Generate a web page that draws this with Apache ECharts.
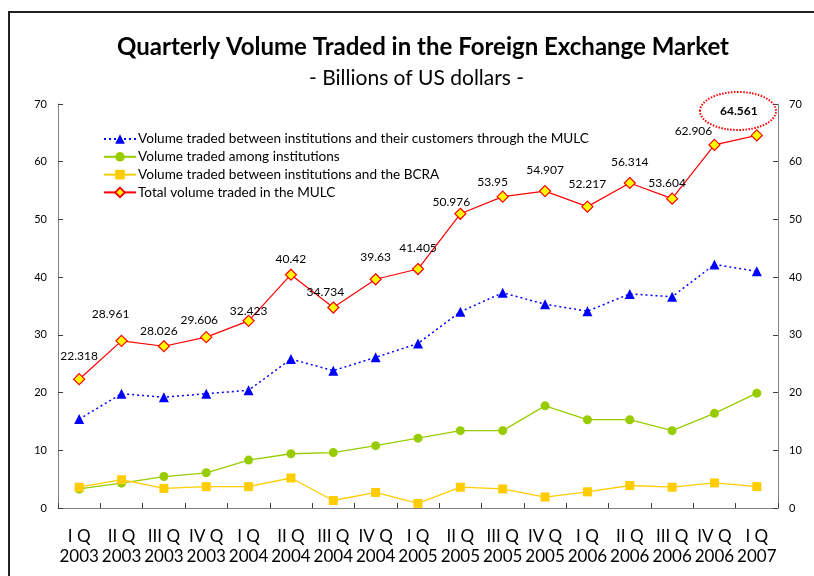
<!DOCTYPE html>
<html>
<head>
<meta charset="utf-8">
<script src="https://cdn.jsdelivr.net/npm/echarts@6/dist/echarts.min.js"></script>
<style>
  html, body { margin: 0; padding: 0; background: #fff; }
  #fx-chart { width: 814px; height: 576px; }
</style>
</head>
<body>
<div id="fx-chart"></div>
<script>
var quarters = ['I Q\n2003', 'II Q\n2003', 'III Q\n2003', 'IV Q\n2003',
  'I Q\n2004', 'II Q\n2004', 'III Q\n2004', 'IV Q\n2004',
  'I Q\n2005', 'II Q\n2005', 'III Q\n2005', 'IV Q\n2005',
  'I Q\n2006', 'II Q\n2006', 'III Q\n2006', 'IV Q\n2006', 'I Q\n2007'];
var customers = [15.4, 19.8, 19.2, 19.8, 20.4, 25.8, 23.8, 26.1, 28.5, 34.0, 37.3, 35.3, 34.1, 37.1, 36.6, 42.2, 41.0];
var amongInst = [3.3, 4.3, 5.45, 6.1, 8.3, 9.4, 9.6, 10.8, 12.1, 13.4, 13.4, 17.7, 15.3, 15.3, 13.4, 16.4, 19.9];
var withBcra = [3.6, 4.9, 3.4, 3.7, 3.7, 5.2, 1.3, 2.7, 0.8, 3.6, 3.3, 1.9, 2.8, 3.9, 3.6, 4.35, 3.7];
var total = [22.318, 28.961, 28.026, 29.606, 32.423, 40.42, 34.734, 39.63, 41.405, 50.976, 53.95, 54.907, 52.217, 56.314, 53.604, 62.906, 64.561];
var seriesNames = [
  'Volume traded between institutions and their customers through the MULC',
  'Volume traded among institutions',
  'Volume traded between institutions and the BCRA',
  'Total volume traded in the MULC'
];

// where each total label sits relative to its point
var labelOffsets = [[0, -23], [-11, -27], [-5, -15], [-7, -17], [0, -10], [0, -16], [-8, -15], [0, -22],
  [0, -21], [-9, -12], [-10, -15], [0, -21], [0, -23], [0, -21], [-5, -16], [-21, -14], [-18, -24]];

var font = 'Lato, "Open Sans", sans-serif';
var chartDom = document.getElementById('fx-chart');
var myChart = echarts.init(chartDom);
var option;

var totalData = total.map(function (v, i) {
  var item = { value: v, label: { offset: labelOffsets[i] } };
  if (i === total.length - 1) {
    item.label.fontWeight = 'bold';
  }
  return item;
});

var yAxisBase = {
  type: 'value',
  min: 0,
  max: 70,
  interval: 10,
  axisLine: { show: true, lineStyle: { color: '#808080', width: 1 } },
  axisTick: { show: true, inside: true, length: 5, lineStyle: { color: '#404040' } },
  axisLabel: { color: '#000', fontSize: 11, fontFamily: font, margin: 11 },
  splitLine: { show: false }
};

option = {
  backgroundColor: '#fff',
  animation: false,
  textStyle: { fontFamily: font },
  title: [
    {
      text: 'Quarterly Volume Traded in the Foreign Exchange Market',
      left: 117,
      top: 35,
      padding: 0,
      textStyle: { fontSize: 24, fontWeight: 'bold', color: '#000', fontFamily: font }
    },
    {
      text: '- Billions of US dollars -',
      left: 309,
      top: 68,
      padding: 0,
      textStyle: { fontSize: 21, fontWeight: 'normal', color: '#000', fontFamily: font }
    }
  ],
  legend: {
    orient: 'vertical',
    left: 98,
    top: 127,
    itemWidth: 32,
    itemHeight: 12,
    itemGap: 3.8,
    textStyle: { fontSize: 13.6, color: '#000', fontFamily: font, padding: [0, 0, 0, -3] },
    data: seriesNames
  },
  grid: { left: 58, right: 36, top: 104, bottom: 68 },
  xAxis: {
    type: 'category',
    data: quarters,
    axisLine: { lineStyle: { color: '#808080', width: 1 } },
    axisTick: { show: true, inside: true, length: 5, lineStyle: { color: '#404040' } },
    axisLabel: { color: '#000', fontSize: 17, fontFamily: font, margin: 19, lineHeight: 20, interval: 0 }
  },
  yAxis: [
    Object.assign({}, yAxisBase, { position: 'left' }),
    Object.assign({}, yAxisBase, { position: 'right' })
  ],
  series: [
    {
      name: seriesNames[0],
      type: 'line',
      data: customers,
      symbol: 'triangle',
      symbolSize: 10,
      itemStyle: { color: '#0000ff' },
      lineStyle: { color: '#0000ff', width: 1.5, type: [2, 3] }
    },
    {
      name: seriesNames[1],
      type: 'line',
      data: amongInst,
      symbol: 'circle',
      symbolSize: 9,
      itemStyle: { color: '#99cc00' },
      lineStyle: { color: '#99cc00', width: 1.3 }
    },
    {
      name: seriesNames[2],
      type: 'line',
      data: withBcra,
      symbol: 'rect',
      symbolSize: 9,
      itemStyle: { color: '#ffcc00' },
      lineStyle: { color: '#ffcc00', width: 1.3 }
    },
    {
      name: seriesNames[3],
      type: 'line',
      data: totalData,
      symbol: 'diamond',
      symbolSize: 11,
      itemStyle: { color: '#ffff00', borderColor: '#ff0000', borderWidth: 1.2 },
      lineStyle: { color: '#ff0000', width: 1.2 },
      label: {
        show: true,
        position: 'inside',
        color: '#000',
        fontSize: 12,
        fontFamily: font
      }
    }
  ],
  graphic: [
    {
      type: 'rect',
      shape: { x: 9, y: 12, width: 900, height: 700 },
      style: { fill: 'none', stroke: '#222', lineWidth: 2 },
      silent: true
    },
    {
      type: 'ellipse',
      shape: { cx: 738, cy: 111, rx: 38, ry: 19 },
      style: { fill: 'none', stroke: '#ff0000', lineWidth: 2, lineDash: [1.5, 1.5] },
      silent: true
    }
  ]
};

option && myChart.setOption(option);
</script>
</body>
</html>
